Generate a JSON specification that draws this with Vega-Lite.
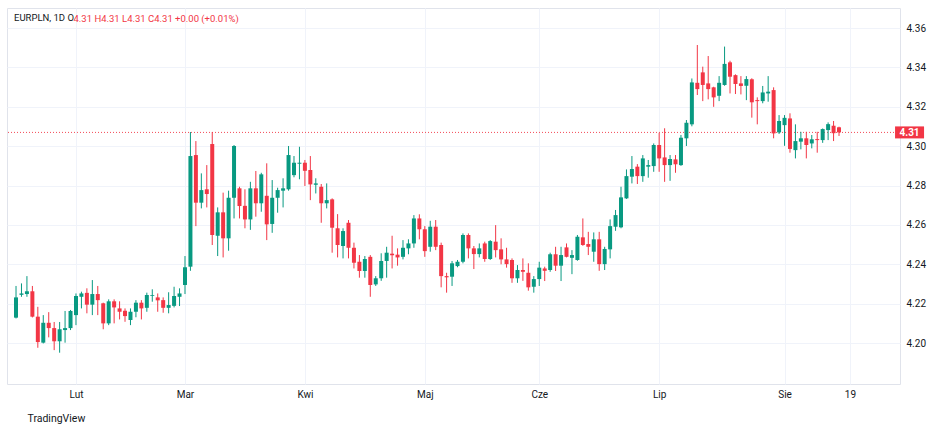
{
  "$schema": "https://vega.github.io/schema/vega-lite/v6.json",
  "description": "EURPLN daily candles",
  "autosize": {"type": "none"},
  "width": 893,
  "height": 376,
  "padding": {"left": 7, "top": 8, "right": 48, "bottom": 49},
  "background": "#ffffff",
  "title": {"text": "EURPLN, 1D  O", "anchor": "start", "frame": "group", "offset": 0, "dx": 7, "dy": 22.9, "baseline": "alphabetic", "font": "Roboto", "fontSize": 9.5, "fontWeight": "normal", "color": "#131722"},
  "data": {
    "values": [
      {"o": 4.2129, "h": 4.2290, "l": 4.2125, "c": 4.2232},
      {"o": 4.2245, "h": 4.2303, "l": 4.2235, "c": 4.2252},
      {"o": 4.2249, "h": 4.2340, "l": 4.2235, "c": 4.2263},
      {"o": 4.2263, "h": 4.2290, "l": 4.2130, "c": 4.2134},
      {"o": 4.2134, "h": 4.2184, "l": 4.1976, "c": 4.2005},
      {"o": 4.2002, "h": 4.2142, "l": 4.1998, "c": 4.2103},
      {"o": 4.2103, "h": 4.2157, "l": 4.2029, "c": 4.2076},
      {"o": 4.2076, "h": 4.2107, "l": 4.1964, "c": 4.2009},
      {"o": 4.2009, "h": 4.2107, "l": 4.1951, "c": 4.2070},
      {"o": 4.2066, "h": 4.2163, "l": 4.2002, "c": 4.2076},
      {"o": 4.2076, "h": 4.2168, "l": 4.2066, "c": 4.2163},
      {"o": 4.2142, "h": 4.2252, "l": 4.2091, "c": 4.2239},
      {"o": 4.2235, "h": 4.2261, "l": 4.2176, "c": 4.2252},
      {"o": 4.2255, "h": 4.2278, "l": 4.2151, "c": 4.2195},
      {"o": 4.2195, "h": 4.2320, "l": 4.2142, "c": 4.2249},
      {"o": 4.2249, "h": 4.2290, "l": 4.2142, "c": 4.2218},
      {"o": 4.2202, "h": 4.2205, "l": 4.2070, "c": 4.2100},
      {"o": 4.2100, "h": 4.2222, "l": 4.2091, "c": 4.2212},
      {"o": 4.2212, "h": 4.2222, "l": 4.2100, "c": 4.2181},
      {"o": 4.2176, "h": 4.2212, "l": 4.2120, "c": 4.2159},
      {"o": 4.2164, "h": 4.2176, "l": 4.2108, "c": 4.2137},
      {"o": 4.2117, "h": 4.2176, "l": 4.2091, "c": 4.2159},
      {"o": 4.2159, "h": 4.2218, "l": 4.2131, "c": 4.2205},
      {"o": 4.2205, "h": 4.2218, "l": 4.2120, "c": 4.2176},
      {"o": 4.2179, "h": 4.2256, "l": 4.2159, "c": 4.2244},
      {"o": 4.2240, "h": 4.2273, "l": 4.2210, "c": 4.2244},
      {"o": 4.2232, "h": 4.2252, "l": 4.2159, "c": 4.2217},
      {"o": 4.2218, "h": 4.2232, "l": 4.2154, "c": 4.2179},
      {"o": 4.2179, "h": 4.2258, "l": 4.2151, "c": 4.2193},
      {"o": 4.2189, "h": 4.2286, "l": 4.2181, "c": 4.2239},
      {"o": 4.2235, "h": 4.2278, "l": 4.2188, "c": 4.2252},
      {"o": 4.2295, "h": 4.2442, "l": 4.2249, "c": 4.2385},
      {"o": 4.2388, "h": 4.3072, "l": 4.2367, "c": 4.2950},
      {"o": 4.2955, "h": 4.3026, "l": 4.2594, "c": 4.2713},
      {"o": 4.2713, "h": 4.2862, "l": 4.2684, "c": 4.2777},
      {"o": 4.2781, "h": 4.2904, "l": 4.2689, "c": 4.2757},
      {"o": 4.3011, "h": 4.3072, "l": 4.2498, "c": 4.2549},
      {"o": 4.2545, "h": 4.2689, "l": 4.2442, "c": 4.2664},
      {"o": 4.2664, "h": 4.2764, "l": 4.2435, "c": 4.2532},
      {"o": 4.2532, "h": 4.2774, "l": 4.2469, "c": 4.2738},
      {"o": 4.2738, "h": 4.3006, "l": 4.2633, "c": 4.3001},
      {"o": 4.2786, "h": 4.2794, "l": 4.2633, "c": 4.2696},
      {"o": 4.2697, "h": 4.2781, "l": 4.2583, "c": 4.2628},
      {"o": 4.2628, "h": 4.2819, "l": 4.2575, "c": 4.2786},
      {"o": 4.2786, "h": 4.2874, "l": 4.2642, "c": 4.2710},
      {"o": 4.2710, "h": 4.2865, "l": 4.2667, "c": 4.2857},
      {"o": 4.2748, "h": 4.2913, "l": 4.2523, "c": 4.2603},
      {"o": 4.2605, "h": 4.2828, "l": 4.2560, "c": 4.2738},
      {"o": 4.2738, "h": 4.2789, "l": 4.2662, "c": 4.2777},
      {"o": 4.2774, "h": 4.2837, "l": 4.2689, "c": 4.2786},
      {"o": 4.2781, "h": 4.3001, "l": 4.2774, "c": 4.2955},
      {"o": 4.2853, "h": 4.2950, "l": 4.2842, "c": 4.2916},
      {"o": 4.2911, "h": 4.2997, "l": 4.2832, "c": 4.2916},
      {"o": 4.2916, "h": 4.2930, "l": 4.2798, "c": 4.2875},
      {"o": 4.2879, "h": 4.2950, "l": 4.2726, "c": 4.2806},
      {"o": 4.2804, "h": 4.2837, "l": 4.2760, "c": 4.2811},
      {"o": 4.2794, "h": 4.2808, "l": 4.2611, "c": 4.2710},
      {"o": 4.2710, "h": 4.2811, "l": 4.2684, "c": 4.2726},
      {"o": 4.2730, "h": 4.2735, "l": 4.2459, "c": 4.2586},
      {"o": 4.2583, "h": 4.2655, "l": 4.2435, "c": 4.2498},
      {"o": 4.2493, "h": 4.2583, "l": 4.2430, "c": 4.2569},
      {"o": 4.2611, "h": 4.2625, "l": 4.2430, "c": 4.2484},
      {"o": 4.2484, "h": 4.2510, "l": 4.2379, "c": 4.2408},
      {"o": 4.2413, "h": 4.2447, "l": 4.2332, "c": 4.2366},
      {"o": 4.2366, "h": 4.2442, "l": 4.2332, "c": 4.2427},
      {"o": 4.2438, "h": 4.2447, "l": 4.2235, "c": 4.2295},
      {"o": 4.2298, "h": 4.2340, "l": 4.2290, "c": 4.2329},
      {"o": 4.2329, "h": 4.2456, "l": 4.2316, "c": 4.2417},
      {"o": 4.2417, "h": 4.2489, "l": 4.2332, "c": 4.2459},
      {"o": 4.2454, "h": 4.2545, "l": 4.2379, "c": 4.2446},
      {"o": 4.2449, "h": 4.2481, "l": 4.2393, "c": 4.2435},
      {"o": 4.2438, "h": 4.2523, "l": 4.2425, "c": 4.2484},
      {"o": 4.2481, "h": 4.2527, "l": 4.2451, "c": 4.2506},
      {"o": 4.2506, "h": 4.2650, "l": 4.2484, "c": 4.2633},
      {"o": 4.2633, "h": 4.2654, "l": 4.2527, "c": 4.2578},
      {"o": 4.2578, "h": 4.2594, "l": 4.2438, "c": 4.2467},
      {"o": 4.2489, "h": 4.2621, "l": 4.2464, "c": 4.2591},
      {"o": 4.2591, "h": 4.2625, "l": 4.2472, "c": 4.2489},
      {"o": 4.2498, "h": 4.2510, "l": 4.2283, "c": 4.2340},
      {"o": 4.2340, "h": 4.2357, "l": 4.2256, "c": 4.2334},
      {"o": 4.2337, "h": 4.2417, "l": 4.2290, "c": 4.2405},
      {"o": 4.2391, "h": 4.2422, "l": 4.2385, "c": 4.2413},
      {"o": 4.2413, "h": 4.2557, "l": 4.2405, "c": 4.2549},
      {"o": 4.2549, "h": 4.2557, "l": 4.2430, "c": 4.2481},
      {"o": 4.2481, "h": 4.2493, "l": 4.2376, "c": 4.2452},
      {"o": 4.2452, "h": 4.2506, "l": 4.2435, "c": 4.2481},
      {"o": 4.2506, "h": 4.2515, "l": 4.2413, "c": 4.2427},
      {"o": 4.2427, "h": 4.2523, "l": 4.2422, "c": 4.2518},
      {"o": 4.2515, "h": 4.2599, "l": 4.2435, "c": 4.2472},
      {"o": 4.2476, "h": 4.2532, "l": 4.2400, "c": 4.2425},
      {"o": 4.2425, "h": 4.2484, "l": 4.2383, "c": 4.2401},
      {"o": 4.2422, "h": 4.2430, "l": 4.2306, "c": 4.2329},
      {"o": 4.2329, "h": 4.2396, "l": 4.2306, "c": 4.2371},
      {"o": 4.2371, "h": 4.2430, "l": 4.2316, "c": 4.2362},
      {"o": 4.2357, "h": 4.2405, "l": 4.2266, "c": 4.2283},
      {"o": 4.2286, "h": 4.2340, "l": 4.2256, "c": 4.2325},
      {"o": 4.2325, "h": 4.2413, "l": 4.2290, "c": 4.2383},
      {"o": 4.2379, "h": 4.2388, "l": 4.2315, "c": 4.2367},
      {"o": 4.2371, "h": 4.2459, "l": 4.2362, "c": 4.2451},
      {"o": 4.2451, "h": 4.2489, "l": 4.2366, "c": 4.2393},
      {"o": 4.2393, "h": 4.2489, "l": 4.2315, "c": 4.2447},
      {"o": 4.2486, "h": 4.2506, "l": 4.2435, "c": 4.2438},
      {"o": 4.2433, "h": 4.2472, "l": 4.2350, "c": 4.2447},
      {"o": 4.2422, "h": 4.2549, "l": 4.2418, "c": 4.2540},
      {"o": 4.2537, "h": 4.2633, "l": 4.2494, "c": 4.2498},
      {"o": 4.2503, "h": 4.2565, "l": 4.2447, "c": 4.2489},
      {"o": 4.2464, "h": 4.2562, "l": 4.2413, "c": 4.2527},
      {"o": 4.2527, "h": 4.2565, "l": 4.2367, "c": 4.2401},
      {"o": 4.2401, "h": 4.2489, "l": 4.2371, "c": 4.2478},
      {"o": 4.2476, "h": 4.2628, "l": 4.2430, "c": 4.2594},
      {"o": 4.2591, "h": 4.2676, "l": 4.2570, "c": 4.2650},
      {"o": 4.2588, "h": 4.2794, "l": 4.2583, "c": 4.2740},
      {"o": 4.2735, "h": 4.2882, "l": 4.2732, "c": 4.2848},
      {"o": 4.2845, "h": 4.2950, "l": 4.2811, "c": 4.2884},
      {"o": 4.2896, "h": 4.2909, "l": 4.2808, "c": 4.2848},
      {"o": 4.2848, "h": 4.2955, "l": 4.2819, "c": 4.2938},
      {"o": 4.2896, "h": 4.2930, "l": 4.2840, "c": 4.2904},
      {"o": 4.2899, "h": 4.3014, "l": 4.2870, "c": 4.3006},
      {"o": 4.3006, "h": 4.3068, "l": 4.2870, "c": 4.2938},
      {"o": 4.2943, "h": 4.3091, "l": 4.2819, "c": 4.2904},
      {"o": 4.2904, "h": 4.2955, "l": 4.2824, "c": 4.2935},
      {"o": 4.2933, "h": 4.2955, "l": 4.2865, "c": 4.2908},
      {"o": 4.2904, "h": 4.3057, "l": 4.2900, "c": 4.3043},
      {"o": 4.3040, "h": 4.3133, "l": 4.3001, "c": 4.3119},
      {"o": 4.3111, "h": 4.3344, "l": 4.3101, "c": 4.3324},
      {"o": 4.3322, "h": 4.3514, "l": 4.3260, "c": 4.3290},
      {"o": 4.3375, "h": 4.3404, "l": 4.3229, "c": 4.3311},
      {"o": 4.3319, "h": 4.3458, "l": 4.3238, "c": 4.3290},
      {"o": 4.3299, "h": 4.3302, "l": 4.3200, "c": 4.3248},
      {"o": 4.3256, "h": 4.3356, "l": 4.3229, "c": 4.3322},
      {"o": 4.3311, "h": 4.3506, "l": 4.3307, "c": 4.3418},
      {"o": 4.3426, "h": 4.3434, "l": 4.3268, "c": 4.3353},
      {"o": 4.3361, "h": 4.3365, "l": 4.3265, "c": 4.3316},
      {"o": 4.3319, "h": 4.3356, "l": 4.3263, "c": 4.3306},
      {"o": 4.3307, "h": 4.3356, "l": 4.3234, "c": 4.3341},
      {"o": 4.3340, "h": 4.3345, "l": 4.3145, "c": 4.3223},
      {"o": 4.3234, "h": 4.3248, "l": 4.3111, "c": 4.3229},
      {"o": 4.3229, "h": 4.3306, "l": 4.3218, "c": 4.3273},
      {"o": 4.3268, "h": 4.3356, "l": 4.3226, "c": 4.3277},
      {"o": 4.3285, "h": 4.3299, "l": 4.3040, "c": 4.3065},
      {"o": 4.3070, "h": 4.3158, "l": 4.3062, "c": 4.3128},
      {"o": 4.3107, "h": 4.3158, "l": 4.3002, "c": 4.3144},
      {"o": 4.3141, "h": 4.3167, "l": 4.2967, "c": 4.2986},
      {"o": 4.2980, "h": 4.3111, "l": 4.2938, "c": 4.3026},
      {"o": 4.3023, "h": 4.3073, "l": 4.2984, "c": 4.3040},
      {"o": 4.3040, "h": 4.3073, "l": 4.2938, "c": 4.3006},
      {"o": 4.3014, "h": 4.3057, "l": 4.2989, "c": 4.3035},
      {"o": 4.3036, "h": 4.3073, "l": 4.2967, "c": 4.3031},
      {"o": 4.3031, "h": 4.3090, "l": 4.3017, "c": 4.3087},
      {"o": 4.3082, "h": 4.3121, "l": 4.3031, "c": 4.3112},
      {"o": 4.3104, "h": 4.3128, "l": 4.3026, "c": 4.3066},
      {"o": 4.3096, "h": 4.3099, "l": 4.3052, "c": 4.3070}
    ]
  },
  "transform": [{"window": [{"op": "row_number", "as": "n"}]}],
  "layer": [
    {
      "transform": [
        {"joinaggregate": [{"op": "max", "field": "n", "as": "last"}]},
        {"filter": "datum.n === datum.last"}
      ],
      "mark": {"type": "rule", "color": "#f23645", "strokeWidth": 1, "strokeDash": [1, 2], "opacity": 0.9},
      "encoding": {
        "y": {
          "field": "c", "type": "quantitative",
          "scale": {"domain": [4.1792, 4.3702], "nice": false, "zero": false},
          "axis": {
            "orient": "right", "values": [4.2, 4.22, 4.24, 4.26, 4.28, 4.3, 4.32, 4.34, 4.36], "format": ".2f",
            "grid": true, "gridColor": "#f0f3fa", "ticks": false, "domain": false,
            "labelPadding": 6, "labelFont": "Roboto", "labelFontSize": 10, "labelColor": "#131722",
            "title": "4.31 H4.31 L4.31 C4.31 +0.00 (+0.01%)", "titleAngle": 0, "titleAlign": "left", "titleBaseline": "alphabetic",
            "titleX": -827, "titleY": 13.4, "titleFont": "Roboto", "titleFontSize": 9.5, "titleFontWeight": "normal", "titleColor": "#f23645"
          }
        }
      }
    },
    {
      "mark": {"type": "rule", "strokeWidth": 1},
      "encoding": {
        "x": {
          "field": "n", "type": "quantitative",
          "scale": {"domain": [0.2616, 162.27], "nice": false, "zero": false},
          "axis": {
            "values": [12, 32, 54, 76, 97, 119, 142, 154],
            "labelExpr": "datum.value == 12 ? 'Lut' : datum.value == 32 ? 'Mar' : datum.value == 54 ? 'Kwi' : datum.value == 76 ? 'Maj' : datum.value == 97 ? 'Cze' : datum.value == 119 ? 'Lip' : datum.value == 142 ? 'Sie' : '19'",
            "grid": true, "gridColor": "#f0f3fa", "ticks": false, "domain": false,
            "labelPadding": 5, "labelFont": "Roboto", "labelFontSize": 10, "labelColor": "#131722", "labelFlush": false,
            "title": "TradingView", "titleX": 20, "titleY": 37.5, "titleAlign": "left", "titleBaseline": "alphabetic",
            "titleFont": "Roboto", "titleFontSize": 10.5, "titleFontWeight": "normal", "titleColor": "#131722"
          }
        },
        "y": {"field": "l", "type": "quantitative", "scale": {"domain": [4.1792, 4.3702], "nice": false, "zero": false}},
        "y2": {"field": "h"},
        "color": {"condition": {"test": "datum.c >= datum.o", "value": "#089981"}, "value": "#f23645"}
      }
    },
    {
      "mark": {"type": "bar", "width": 4},
      "encoding": {
        "x": {"field": "n", "type": "quantitative", "scale": {"domain": [0.2616, 162.27], "nice": false, "zero": false}},
        "y": {"field": "o", "type": "quantitative", "scale": {"domain": [4.1792, 4.3702], "nice": false, "zero": false}},
        "y2": {"field": "c"},
        "color": {"condition": {"test": "datum.c >= datum.o", "value": "#089981"}, "value": "#f23645"}
      }
    },
    {
      "transform": [
        {"joinaggregate": [{"op": "max", "field": "n", "as": "last"}]},
        {"filter": "datum.n === datum.last"}
      ],
      "layer": [
        {
          "mark": {"type": "tick", "orient": "horizontal", "size": 29, "thickness": 12, "color": "#f23645", "opacity": 1},
          "encoding": {
            "x": {"datum": 164.94, "type": "quantitative", "scale": {"domain": [0.2616, 162.27], "nice": false, "zero": false}},
            "y": {"field": "c", "type": "quantitative", "scale": {"domain": [4.1792, 4.3702], "nice": false, "zero": false}}
          }
        },
        {
          "mark": {"type": "text", "color": "#ffffff", "font": "Roboto", "fontSize": 10, "fontWeight": "bold", "align": "center", "baseline": "middle", "dy": 0.5},
          "encoding": {
            "x": {"datum": 164.94, "type": "quantitative", "scale": {"domain": [0.2616, 162.27], "nice": false, "zero": false}},
            "y": {"field": "c", "type": "quantitative", "scale": {"domain": [4.1792, 4.3702], "nice": false, "zero": false}},
            "text": {"field": "c", "type": "quantitative", "format": ".2f"}
          }
        }
      ]
    }
  ],
  "config": {
    "view": {"stroke": "#e0e3eb", "strokeWidth": 1},
    "font": "Roboto"
  }
}
